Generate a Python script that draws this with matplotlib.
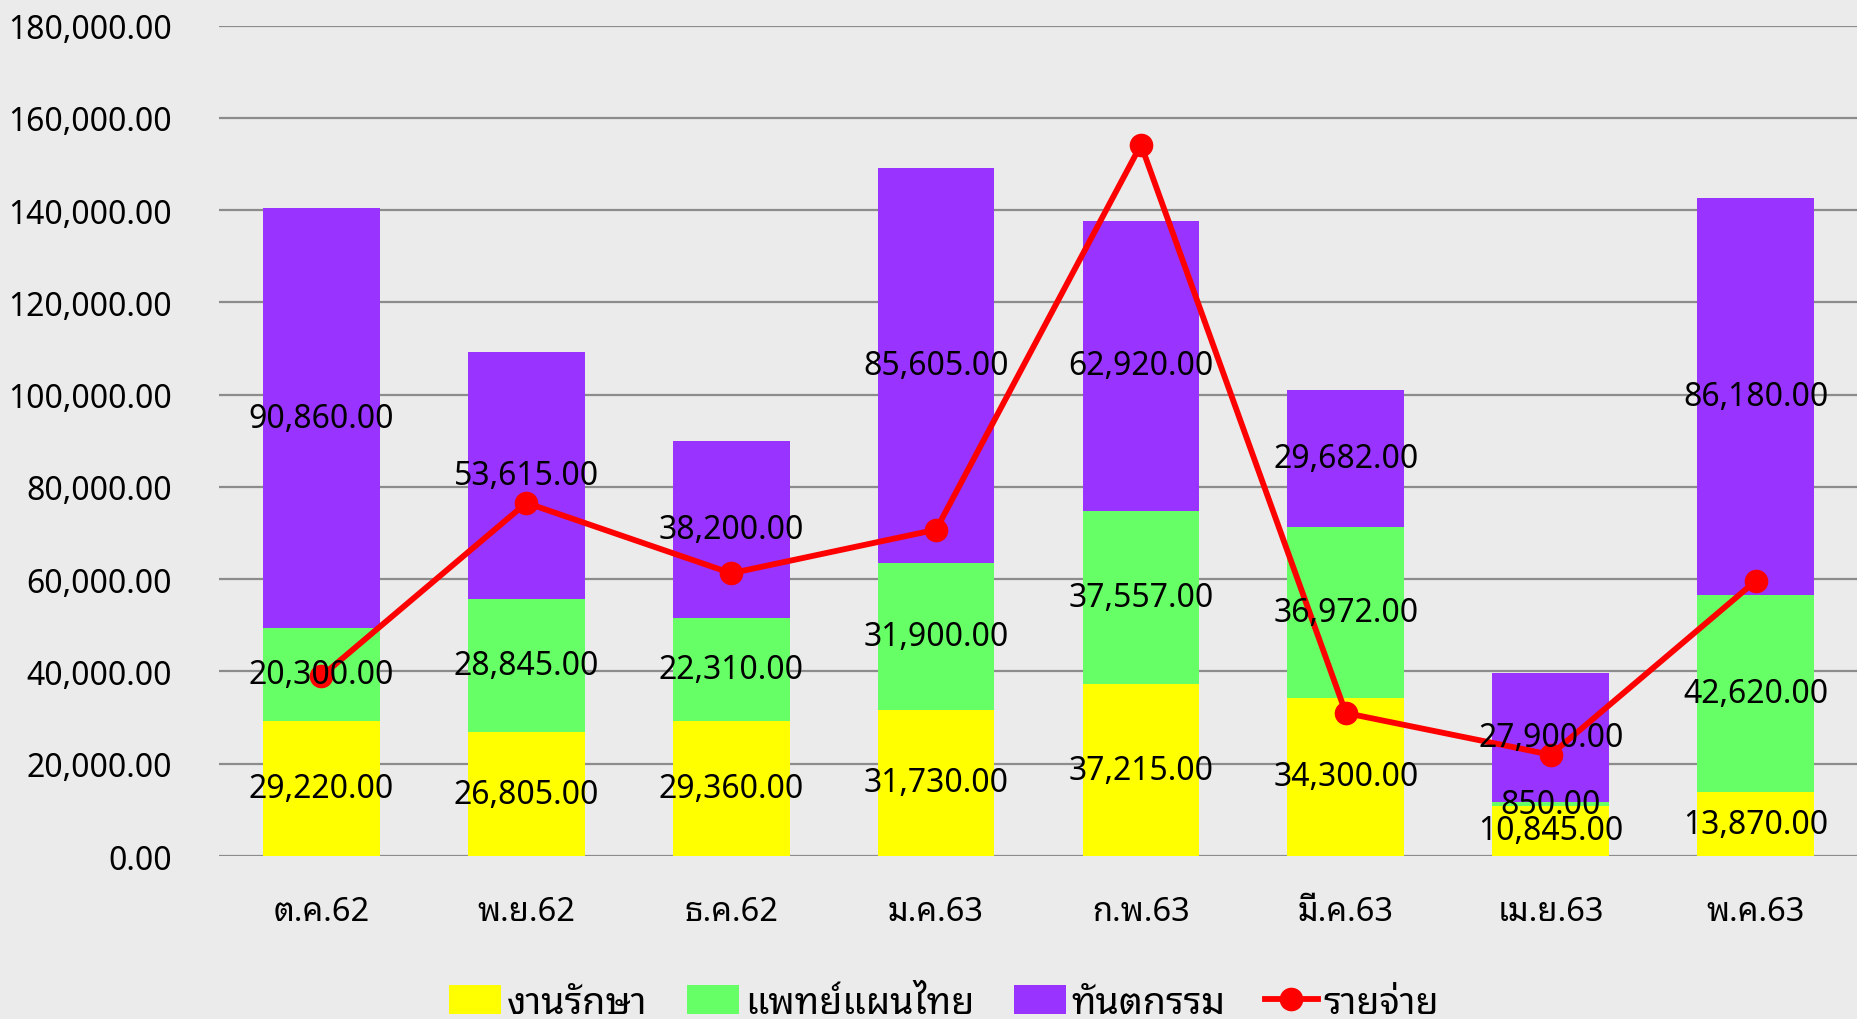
# -*- coding: utf-8 -*-

import matplotlib
matplotlib.use("Agg")
from matplotlib import pyplot as plt
from matplotlib.ticker import FuncFormatter
import numpy as np

plt.rcParams['font.family'] = ['Noto Sans Thai Looped', 'DejaVu Sans']

# ข้อมูล
months = ["ต.ค.62", "พ.ย.62", "ธ.ค.62", "ม.ค.63", "ก.พ.63", "มี.ค.63", "เม.ย.63", "พ.ค.63"]
treatment = [29220, 26805, 29360, 31730, 37215, 34300, 10845, 13870]   # งานรักษา
thai_med = [20300, 28845, 22310, 31900, 37557, 36972, 850, 42620]      # แพทย์แผนไทย
dental = [90860, 53615, 38200, 85605, 62920, 29682, 27900, 86180]      # ทันตกรรม
expense = [39000, 76550, 61300, 70750, 154200, 31000, 21950, 59600]    # รายจ่าย

bg = "#ebebeb"
fig = plt.figure(figsize=(18.58, 10.2), dpi=100, facecolor=bg)
ax = fig.add_axes([0.1179, 0.1598, 0.8821, 0.814])
ax.set_facecolor(bg)

x = np.arange(len(months))
w = 0.57
b1 = ax.bar(x, treatment, w, color="#FFFF00", label="งานรักษา", zorder=2)
bottom2 = np.array(treatment)
b2 = ax.bar(x, thai_med, w, bottom=bottom2, color="#66FF66", label="แพทย์แผนไทย", zorder=2)
bottom3 = bottom2 + np.array(thai_med)
b3 = ax.bar(x, dental, w, bottom=bottom3, color="#9933FF", label="ทันตกรรม", zorder=2)

# ป้ายตัวเลขกลางแท่ง
for bars in (b1, b2, b3):
    ax.bar_label(bars, labels=["{:,.2f}".format(v) for v in bars.datavalues],
                 label_type="center", fontsize=23, color="black", zorder=5)

ln, = ax.plot(x, expense, color="#FF0000", lw=4.2, marker="o", markersize=16,
              label="รายจ่าย", zorder=4)

ax.set_ylim(0, 180000)
ax.set_xlim(-0.5, len(months) - 0.5)
ax.set_yticks(np.arange(0, 180001, 20000))
ax.yaxis.set_major_formatter(FuncFormatter(lambda v, p: "{:,.2f}".format(v)))
ax.set_xticks(x)
ax.set_xticklabels(months)
ax.tick_params(axis="y", length=0, pad=34, labelsize=23)
ax.tick_params(axis="x", length=0, pad=28, labelsize=23.5)
ax.grid(axis="y", color="#8c8c8c", lw=1.6, zorder=0)
for s in ax.spines.values():
    s.set_visible(False)

handles = [b1, b2, b3, ln]
labels = ["งานรักษา", "แพทย์แผนไทย", "ทันตกรรม", "รายจ่าย"]
leg = fig.legend(handles, labels, loc="center", bbox_to_anchor=(0.508, 0.016), ncol=4,
                 frameon=False, fontsize=27, handlelength=1.4, handleheight=0.8,
                 columnspacing=1.05, handletextpad=0.15)

plt.savefig("out.png", facecolor=bg)
